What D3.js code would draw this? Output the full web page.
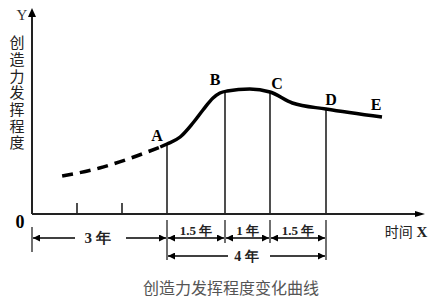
<!DOCTYPE html>
<html>
<head>
<meta charset="utf-8">
<script src="https://cdn.jsdelivr.net/npm/d3@7"></script>
<style>
  body { margin: 0; background: #fff; }
  svg { display: block; }
</style>
</head>
<body>
<div id="chart"></div>
<script>
// data (x in years, y in relative creativity level)
const dashYears = [0.67, 1.5, 2.2, 2.62, 2.85];
const dashLevels = [19, 23, 28, 31.5, 33.5];
const solidYears = [2.85, 3, 3.34, 3.67, 3.93, 4.19, 4.37, 4.55, 5.05, 5.5, 6.1, 7, 8.5];
const solidLevels = [33.5, 35, 38.5, 45.5, 52, 58, 60.5, 61.5, 62.5, 61, 55.5, 52.5, 48.5];
const pointNames = ["A", "B", "C", "D", "E"];
const pointYears = [3, 4.5, 5.5, 7, 8.5];
const pointLevels = [35, 61.4, 61, 52.5, 48.5];
const tickYears = [1, 2];
const spanStarts = [3, 4.5, 5.5];
const spanEnds = [4.5, 5.5, 7];
const spanLabels = ["1.5 年", "1 年", "1.5 年"];
const yLabel = "创造力发挥程度";
const caption = "创造力发挥程度变化曲线";

const width = 439, height = 300;
const serif = "'Liberation Serif', 'DejaVu Serif', serif";
const cjk = "'Noto Sans CJK SC', sans-serif";

// the drawing is not to scale, so the time axis is piecewise linear
const x = d3.scaleLinear()
  .domain([0, 1, 2, 3, 4.5, 5.5, 7])
  .range([32, 77, 122, 167, 225, 270, 326]);
const y = d3.scaleLinear().domain([0, 100]).range([214, 14]);

const svg = d3.select("#chart").append("svg")
  .attr("width", width)
  .attr("height", height)
  .style("background", "#fff");

const defs = svg.append("defs");
defs.append("marker")
  .attr("id", "arr")
  .attr("viewBox", "0 0 10 10")
  .attr("refX", 10).attr("refY", 5)
  .attr("markerWidth", 8).attr("markerHeight", 7)
  .attr("markerUnits", "userSpaceOnUse")
  .attr("orient", "auto-start-reverse")
  .append("path")
  .attr("d", "M0,0L10,5L0,10Z")
  .attr("fill", "#000");

const x0 = x(0), y0 = y(0);

// axes
svg.append("line")
  .attr("x1", x0).attr("y1", y0).attr("x2", x0).attr("y2", 16)
  .attr("stroke", "#222").attr("stroke-width", 2);
svg.append("path")
  .attr("d", `M${x0},8L${x0 + 4},17L${x0 - 4},17Z`)
  .attr("fill", "#000");
svg.append("line")
  .attr("x1", x0).attr("y1", y0).attr("x2", 416).attr("y2", y0)
  .attr("stroke", "#222").attr("stroke-width", 2);
svg.append("path")
  .attr("d", `M425,${y0}L415,${y0 - 3}L415,${y0 + 3}Z`)
  .attr("fill", "#000");

svg.append("text")
  .attr("x", 22).attr("y", 20)
  .attr("text-anchor", "middle")
  .attr("font-family", serif).attr("font-size", 15)
  .attr("fill", "#333")
  .text("Y");

svg.append("text")
  .attr("x", 20).attr("y", 228)
  .attr("text-anchor", "middle")
  .attr("font-family", serif).attr("font-size", 18).attr("font-weight", "bold")
  .text("0");

svg.append("text")
  .attr("x", 406).attr("y", 237)
  .attr("text-anchor", "middle")
  .attr("font-family", cjk).attr("font-size", 14)
  .attr("fill", "#222")
  .text("时间")
  .append("tspan")
  .attr("font-family", serif).attr("font-weight", "bold").attr("font-size", 15)
  .text(" X");

// vertical y-axis title
svg.append("text")
  .attr("x", 17)
  .attr("y", 35)
  .style("writing-mode", "vertical-rl")
  .style("letter-spacing", "1.7px")
  .attr("font-family", cjk).attr("font-size", 15)
  .attr("fill", "#222")
  .text(yLabel);

// small ticks on the time axis
svg.append("g")
  .selectAll("line")
  .data(tickYears)
  .join("line")
  .attr("x1", d => x(d)).attr("x2", d => x(d))
  .attr("y1", y0).attr("y2", y0 - 11)
  .attr("stroke", "#222").attr("stroke-width", 1.6);

// vertical drop lines from A-D
svg.append("g")
  .selectAll("line")
  .data(pointYears.slice(0, 4))
  .join("line")
  .attr("x1", d => x(d)).attr("x2", d => x(d))
  .attr("y1", (d, i) => y(pointLevels[i])).attr("y2", y0)
  .attr("stroke", "#222").attr("stroke-width", 1.6);

// curve
const line = d3.line()
  .x(d => x(d[0]))
  .y(d => y(d[1]))
  .curve(d3.curveMonotoneX);

svg.append("path")
  .datum(dashYears.map((d, i) => [d, dashLevels[i]]))
  .attr("d", line)
  .attr("fill", "none")
  .attr("stroke", "#000")
  .attr("stroke-width", 3.5)
  .attr("stroke-dasharray", "11,7");

svg.append("path")
  .datum(solidYears.map((d, i) => [d, solidLevels[i]]))
  .attr("d", line)
  .attr("fill", "none")
  .attr("stroke", "#000")
  .attr("stroke-width", 3.5)
  .attr("stroke-linecap", "butt");

// point letters
const labelOffsets = [[-10, 5], [-10, 2], [7, 5], [5, 4], [-6, 1]];
svg.append("g")
  .selectAll("text")
  .data(pointNames)
  .join("text")
  .attr("x", (d, i) => x(pointYears[i]) + labelOffsets[i][0])
  .attr("y", (d, i) => y(pointLevels[i]) + labelOffsets[i][1] - 8)
  .attr("text-anchor", "middle")
  .attr("font-family", serif).attr("font-size", 16).attr("font-weight", "bold")
  .text(d => d);

// dimension extension lines below the axis
const ext = [[0, 227, 252], [3, 220, 260], [4.5, 220, 243], [5.5, 220, 243], [7, 220, 260]];
svg.append("g")
  .selectAll("line")
  .data(ext)
  .join("line")
  .attr("x1", d => x(d[0])).attr("x2", d => x(d[0]))
  .attr("y1", d => d[1]).attr("y2", d => d[2])
  .attr("stroke", "#222").attr("stroke-width", 1.3);

function dimArrow(a, b, yy) {
  svg.append("line")
    .attr("x1", a).attr("x2", b).attr("y1", yy).attr("y2", yy)
    .attr("stroke", "#000").attr("stroke-width", 1.3)
    .attr("marker-start", "url(#arr)")
    .attr("marker-end", "url(#arr)");
}
function halfArrow(a, b, yy) {
  svg.append("line")
    .attr("x1", a).attr("x2", b).attr("y1", yy).attr("y2", yy)
    .attr("stroke", "#000").attr("stroke-width", 1.3)
    .attr("marker-end", "url(#arr)");
}

// first row spans
spanStarts.forEach((s, i) => {
  dimArrow(x(s) + 1, x(spanEnds[i]) - 1, 238);
  svg.append("text")
    .attr("x", (x(s) + x(spanEnds[i])) / 2).attr("y", 235)
    .attr("text-anchor", "middle")
    .attr("font-family", serif).attr("font-size", 13).attr("font-weight", "bold")
    .attr("fill", "#222")
    .text(spanLabels[i]);
});

// 3 years
halfArrow(75, x(0) + 1, 238);
halfArrow(126, x(3) - 1, 238);
svg.append("text")
  .attr("x", (x(0) + x(3)) / 2 - 2).attr("y", 243)
  .attr("text-anchor", "middle")
  .attr("font-family", serif).attr("font-size", 15).attr("font-weight", "bold")
  .attr("fill", "#222")
  .text("3 年");

// 4 years
halfArrow(228, x(3) + 1, 256);
halfArrow(270, x(7) - 1, 256);
svg.append("text")
  .attr("x", (x(3) + x(7)) / 2).attr("y", 261)
  .attr("text-anchor", "middle")
  .attr("font-family", serif).attr("font-size", 14).attr("font-weight", "bold")
  .attr("fill", "#222")
  .text("4 年");

// caption
svg.append("text")
  .attr("x", 231).attr("y", 294)
  .attr("text-anchor", "middle")
  .attr("font-family", cjk).attr("font-size", 16)
  .attr("fill", "#555")
  .text(caption);
</script>
</body>
</html>
